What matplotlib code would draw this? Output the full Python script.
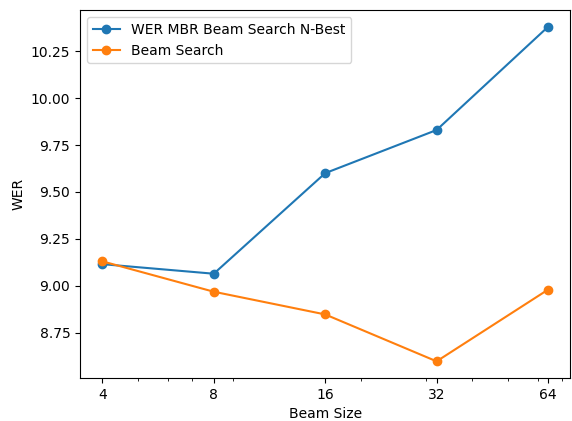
import matplotlib
matplotlib.use("Agg")
import matplotlib.pyplot as plt
from matplotlib.ticker import ScalarFormatter

beam_sizes = [4, 8, 16, 32, 64]
wer_mbr    = [9.115, 9.064, 9.60, 9.83, 10.38]
wer_beam   = [9.13, 8.968, 8.847, 8.597, 8.979]

fig, ax = plt.subplots(figsize=(5.72, 4.21), dpi=100)
fig.subplots_adjust(left=0.14, right=0.997, top=0.976, bottom=0.102)

ax.plot(beam_sizes, wer_mbr,  marker="o", label="WER MBR Beam Search N-Best")
ax.plot(beam_sizes, wer_beam, marker="o", label="Beam Search")
ax.set_xscale("log")
ax.set_xticks(beam_sizes)
ax.get_xaxis().set_major_formatter(ScalarFormatter())
ax.set_xlabel("Beam Size")
ax.set_ylabel("WER")
ax.legend(loc="upper left")

fig.savefig("out.png")
